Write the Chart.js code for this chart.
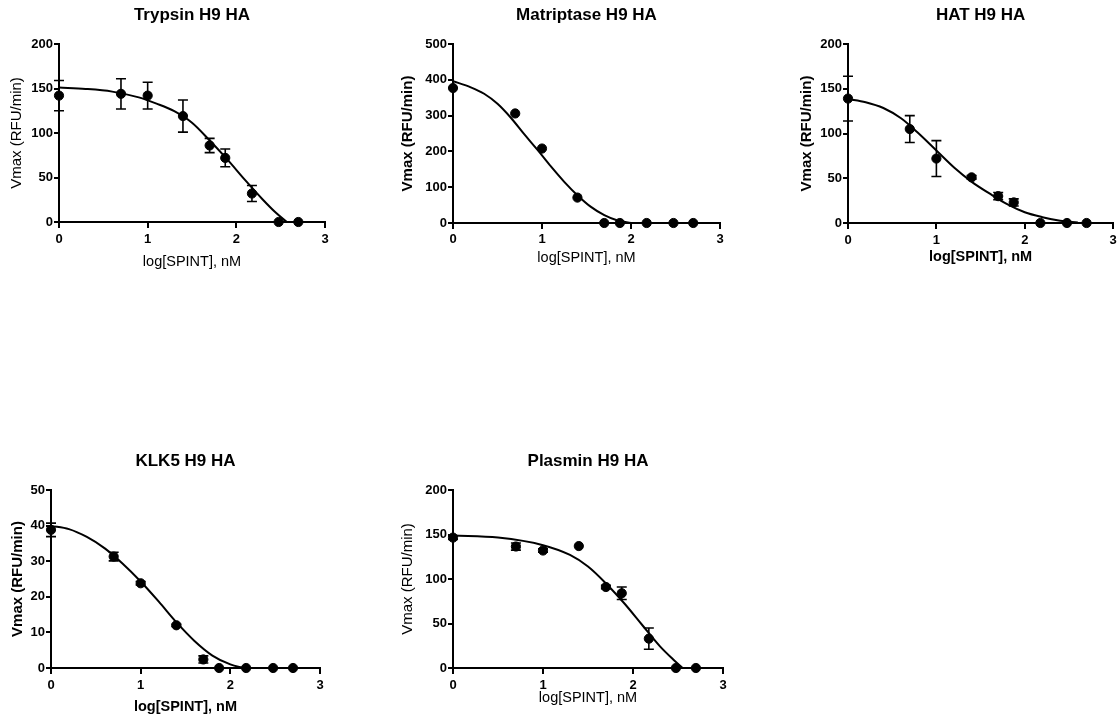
<!DOCTYPE html>
<html>
<head>
<meta charset="UTF-8" />
<title>SPINT inhibition of H9 HA cleavage</title>
<script src="https://cdn.jsdelivr.net/npm/chart.js@4.4.1/dist/chart.umd.min.js"></script>
<style>
  body { margin: 0; background: #fff; width: 1120px; height: 721px; overflow: hidden; position: relative; }
  canvas { position: absolute; }
</style>
</head>
<body>
<canvas id="trypsin" width="340" height="280" style="left:0px;top:0px"></canvas>
<canvas id="matriptase" width="345" height="280" style="left:390px;top:0px"></canvas>
<canvas id="hat" width="340" height="280" style="left:780px;top:0px"></canvas>
<canvas id="klk5" width="340" height="281" style="left:0px;top:440px"></canvas>
<canvas id="plasmin" width="345" height="281" style="left:390px;top:440px"></canvas>

<script>
// log10 of SPINT concentration in nM (1, 5, 10, 25, 50, 75, 150, 300, 500)
const logConc = [0, 0.699, 1, 1.398, 1.699, 1.875, 2.176, 2.477, 2.699];

// mean Vmax and error (RFU/min)
const trypsinVmax = [142, 144, 142, 119, 86, 72, 32, 0, 0];
const trypsinErr  = [17, 17, 15, 18, 8, 10, 9, 0, 0];
const matriptaseVmax = [377, 306, 208, 71, 0, 0, 0, 0, 0];
const matriptaseErr  = [0, 0, 0, 0, 0, 0, 0, 0, 0];
const hatVmax = [139, 105, 72, 51, 30, 23, 0, 0, 0];
const hatErr  = [25, 15, 20, 2, 4, 4, 0, 0, 0];
const klk5Vmax = [38.8, 31.3, 23.8, 12, 2.4, 0, 0, 0, 0];
const klk5Err  = [1.9, 1.2, 0.5, 0.3, 1, 0, 0, 0, 0];
const plasminVmax = [146.5, 136.5, 132, 137, 91, 84, 33, 0, 0];
const plasminErr  = [2, 4, 2, 0, 2, 7, 12, 0, 0];

// fitted curves, points
const trypsinFitX = [0, 0.3, 0.6, 0.9, 1.1, 1.3, 1.5, 1.7, 1.9, 2.1, 2.3, 2.45, 2.57];
const trypsinFitY = [151, 149.5, 146.5, 140, 133, 124.5, 111.5, 91.5, 70, 47, 25, 10, 0];
const matriptaseFitX = [0, 0.2, 0.35, 0.5, 0.65, 0.8, 0.95, 1.1, 1.25, 1.4, 1.55, 1.7, 1.85, 2.0];
const matriptaseFitY = [396, 379, 361, 333, 294, 248, 204, 158, 115, 77, 45, 22, 7, 0];
const hatFitX = [0, 0.2, 0.4, 0.6, 0.8, 1.0, 1.2, 1.4, 1.6, 1.8, 2.0, 2.2, 2.4, 2.6];
const hatFitY = [138.5, 135, 128.5, 117, 100, 81, 62, 46, 33, 21, 12, 6.5, 2.5, 0.5];
const klk5FitX = [0, 0.2, 0.4, 0.6, 0.8, 1.0, 1.2, 1.4, 1.6, 1.8, 2.0, 2.15];
const klk5FitY = [39.9, 39, 36.8, 33.6, 29.3, 24.3, 18.7, 12.8, 7.6, 3.5, 1, 0];
const plasminFitX = [0, 0.5, 1, 1.3, 1.5, 1.7, 1.9, 2.1, 2.3, 2.45, 2.55];
const plasminFitY = [148.8, 146.5, 138, 127, 114, 95, 73, 48.6, 24.3, 9.3, 0];

const xTicks = [0, 1, 2, 3];
const xLabel = 'log[SPINT], nM';
const yLabel = 'Vmax (RFU/min)';

const FONT = '"Liberation Sans", Arial, sans-serif';
const TITLE_SIZE = 17;

function toPoints(xs, ys) {
  return xs.map((x, i) => ({ x: x, y: ys[i] }));
}

// vertical error bars with caps, drawn through the chart scales
const errorBars = {
  id: 'errorBars',
  afterDatasetsDraw(chart, args, opts) {
    const ctx = chart.ctx;
    const xs = chart.scales.x, ys = chart.scales.y;
    const pts = chart.data.datasets[1].data;
    ctx.save();
    ctx.strokeStyle = '#000';
    ctx.lineWidth = 1.6;
    pts.forEach((p, i) => {
      const e = opts.err[i];
      if (!e) return;
      const px = xs.getPixelForValue(p.x);
      const top = ys.getPixelForValue(p.y + e);
      const bot = ys.getPixelForValue(p.y - e);
      ctx.beginPath();
      ctx.moveTo(px, top); ctx.lineTo(px, bot);
      ctx.moveTo(px - 5, top); ctx.lineTo(px + 5, top);
      ctx.moveTo(px - 5, bot); ctx.lineTo(px + 5, bot);
      ctx.stroke();
    });
    ctx.restore();
  }
};

function makePanel(id, title, mean, err, fitX, fitY, yMax, yStep, box) {
  new Chart(document.getElementById(id), {
    type: 'scatter',
    data: {
      datasets: [{
        data: toPoints(fitX, fitY),
        showLine: true,
        borderColor: '#000',
        borderWidth: 2,
        pointRadius: 0,
        cubicInterpolationMode: 'monotone'
      }, {
        data: toPoints(logConc, mean),
        backgroundColor: '#000',
        borderColor: '#000',
        pointRadius: 4.6,
        clip: false
      }]
    },
    plugins: [errorBars],
    options: {
      responsive: false,
      animation: false,
      layout: { padding: { top: 0, right: box.right, left: 0, bottom: 0 } },
      plugins: {
        legend: { display: false },
        tooltip: { enabled: false },
        errorBars: { err: err },
        title: {
          display: true,
          text: title,
          fullSize: false,
          color: '#000',
          font: { family: FONT, size: TITLE_SIZE, weight: 'bold' },
          padding: { top: box.titleTop, bottom: box.top - TITLE_SIZE * 1.2 - box.titleTop }
        }
      },
      scales: {
        x: {
          type: 'linear',
          min: 0, max: 3,
          afterBuildTicks: s => { s.ticks = xTicks.map(v => ({ value: v })); },
          afterFit: s => { s.height = box.axisH; },
          border: { display: true, color: '#000', width: 2 },
          grid: { display: true, drawOnChartArea: false, drawTicks: true, tickLength: 6, color: '#000', lineWidth: 2 },
          ticks: { color: '#000', padding: box.xTickPad, font: { family: FONT, size: 13, weight: 'bold' } },
          title: {
            display: true, text: xLabel, color: '#000',
            font: { family: FONT, size: 14.5, weight: box.xBold ? 'bold' : 'normal' },
            padding: { top: 0, bottom: box.xTitlePad }
          }
        },
        y: {
          min: 0, max: yMax,
          afterFit: s => { s.width = box.axisW; },
          border: { display: true, color: '#000', width: 2 },
          grid: { display: true, drawOnChartArea: false, drawTicks: true, tickLength: 5, color: '#000', lineWidth: 2 },
          ticks: { stepSize: yStep, color: '#000', padding: 1, font: { family: FONT, size: 13, weight: 'bold' } },
          title: {
            display: true, text: yLabel, color: '#000',
            font: { family: FONT, size: 15, weight: box.yBold ? 'bold' : 'normal' },
            padding: { top: box.yTitlePad, bottom: 0 }
          }
        }
      }
    }
  });
}

makePanel('trypsin', 'Trypsin H9 HA', trypsinVmax, trypsinErr, trypsinFitX, trypsinFitY, 200, 50,
  { axisW: 59, axisH: 58, top: 44, right: 15, titleTop: 4.8, yTitlePad: 8.3, xTitlePad: 9.3, xTickPad: 3.2, yBold: false, xBold: false });
makePanel('matriptase', 'Matriptase H9 HA', matriptaseVmax, matriptaseErr, matriptaseFitX, matriptaseFitY, 500, 100,
  { axisW: 63, axisH: 57, top: 44, right: 15, titleTop: 4.8, yTitlePad: 9, xTitlePad: 13.8, xTickPad: 2.2, yBold: true, xBold: false });
makePanel('hat', 'HAT H9 HA', hatVmax, hatErr, hatFitX, hatFitY, 200, 50,
  { axisW: 68, axisH: 57, top: 44, right: 5, titleTop: 4.8, yTitlePad: 17.7, xTitlePad: 14.3, xTickPad: 3.2, yBold: true, xBold: true });
makePanel('klk5', 'KLK5 H9 HA', klk5Vmax, klk5Err, klk5FitX, klk5FitY, 50, 10,
  { axisW: 51, axisH: 53, top: 50, right: 20, titleTop: 11.5, yTitlePad: 9.3, xTitlePad: 5.3, xTickPad: 3.2, yBold: true, xBold: true });
makePanel('plasmin', 'Plasmin H9 HA', plasminVmax, plasminErr, plasminFitX, plasminFitY, 200, 50,
  { axisW: 63, axisH: 53, top: 50, right: 12, titleTop: 11.5, yTitlePad: 9, xTitlePad: 14.3, xTickPad: 3.2, yBold: false, xBold: false });
</script>
</body>
</html>
